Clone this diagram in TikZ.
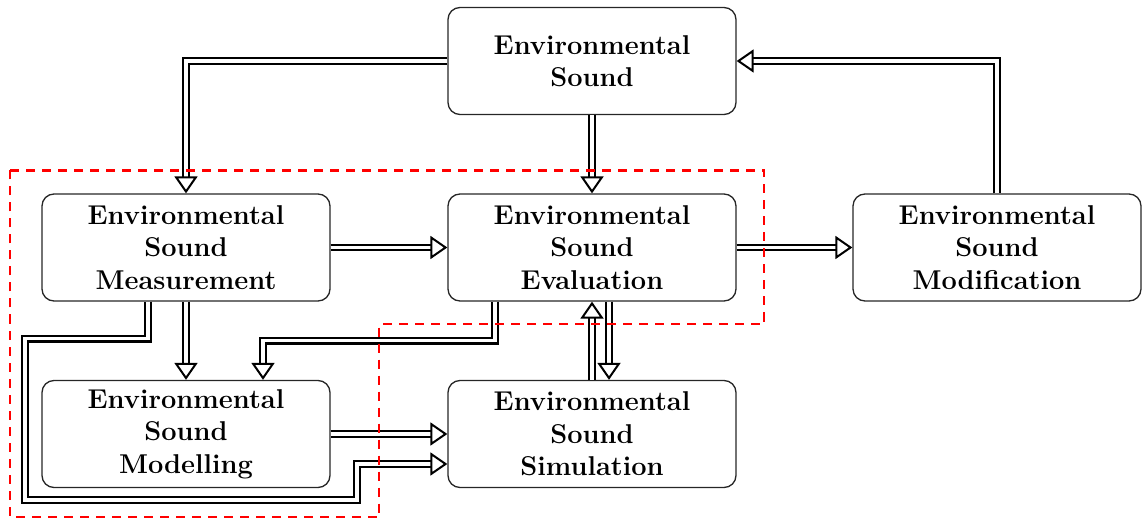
\documentclass[tikz,border=0pt]{standalone}
\usetikzlibrary{arrows.meta,calc}
\begin{document}
\begin{tikzpicture}[x=1pt,y=-1pt,
  box/.style={draw=black!85, rounded corners=12pt, line width=1.3pt,
    minimum width=288pt, minimum height=107pt, inner sep=0pt, align=center,
    font=\bfseries\fontsize{27.2}{32.5}\selectfont},
  flow/.style={draw, line width=2.1pt, double, double distance=3.6pt,
    -{Triangle[open,length=17pt,width=23pt,line width=2pt]}},
  region/.style={draw=red, line width=2.3pt, dash pattern=on 9pt off 7pt}]
\useasboundingbox (0,0) rectangle (1143,521);

% blocks
\node[box] (src)  at (592,61)    {Environmental\\Sound};
\node[box] (meas) at (186,247.5) {Environmental\\Sound\\Measurement};
\node[box] (eval) at (592,247.5) {Environmental\\Sound\\Evaluation};
\node[box] (modf) at (997,247.5) {Environmental\\Sound\\Modification};
\node[box] (modl) at (186,434)   {Environmental\\Sound\\Modelling};
\node[box] (sim)  at (592,434)   {Environmental\\Sound\\Simulation};

% corner points of the long loop
\coordinate (loopA) at (25,500);
\coordinate (loopB) at (357,464);

% connections
\draw[flow] (src.west) -| (meas.north);
\draw[flow] (src.south) -- (eval.north);
\draw[flow] (modf.north) |- (src.east);
\draw[flow] (meas.east) -- (eval.west);
\draw[flow] (eval.east) -- (modf.west);
\draw[flow] (meas.south) -- (modl.north);
\draw[flow] ($(eval.south)+(-97,0)$) -- ++(0,39) -| ($(modl.north)+(77,0)$);
\draw[flow] ($(meas.south)+(-38,0)$) -- ++(0,37) -| (loopA) -| (loopB)
  -- ($(sim.west)+(0,30)$);
\draw[flow] (modl.east) -- (sim.west);
\draw[flow] (sim.north) -- (eval.south);
\draw[flow] ($(eval.south)+(17,0)$) -- ($(sim.north)+(17,0)$);

% measurement/evaluation region
\draw[region] (10,170.5) -- (764,170.5) -- (764,324) -- (379,324)
  -- (379,517) -- (10,517) -- cycle;
\end{tikzpicture}
\end{document}
